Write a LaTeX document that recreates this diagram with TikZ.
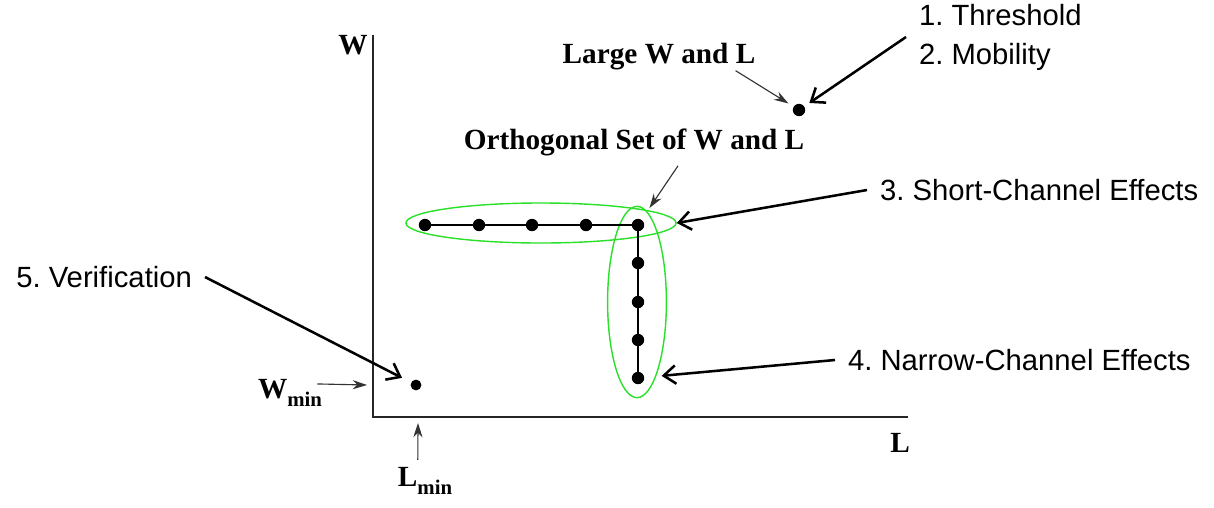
\documentclass[tikz,border=0pt]{standalone}
\usepackage{fontspec}
\setmainfont{Liberation Serif}
\newfontfamily\labelsans{Liberation Sans}
\usetikzlibrary{arrows.meta,positioning,calc,shapes.geometric}
\definecolor{ellgreen}{RGB}{40,225,40}
\frenchspacing
\tikzset{
  dotnode/.style={circle,fill=black,inner sep=0pt,minimum size=0.31cm},
  ellnode/.style={draw=ellgreen,ellipse,line width=1pt,inner sep=0pt},
  effectlabel/.style={font=\labelsans\fontsize{20.8}{27.7}\selectfont,
    inner xsep=0.32cm,inner ysep=0pt,align=left},
  seriflabel/.style={font=\bfseries\fontsize{20.8}{24}\selectfont,inner sep=0pt},
  bigarrow/.style={-{Straight Barb[length=3mm,width=4.6mm]},line width=1.8pt},
  thinarrow/.style={-{Stealth[length=3.6mm,width=2.3mm]},line width=0.8pt,draw=black!80},
  dotlink/.style={line width=1pt},
  axisline/.style={line width=1.2pt,draw=black!85}
}
\newcommand{\subtext}[1]{\raisebox{-0.2cm}{\fontsize{14.8}{16}\selectfont #1}}

\begin{document}
\begin{tikzpicture}[x=0.025cm,y=-0.025cm]
  \useasboundingbox (0,0) rectangle (1214,507);

  % axes
  \draw[axisline] (373,35) |- (908,417);
  \node[seriflabel] (wax) at (353,45) {W};
  \node[seriflabel] (lax) at (900,443) {L};
  \node[seriflabel] (wmin) at (290,393) {W\subtext{min}};
  \node[seriflabel] (lmin) at (425,481) {L\subtext{min}};
  \coordinate (wtick) at (367,385);
  \coordinate (ltick) at (418,423);
  \draw[thinarrow] ([xshift=-0.12cm,yshift=-0.12cm]wmin.north east) -- (wtick);
  \draw[thinarrow] ([xshift=-0.18cm,yshift=0.18cm]lmin.north) -- (ltick);

  % green groups
  \node[ellnode,minimum width=6.75cm,minimum height=1cm] (hell) at (541,223) {};
  \node[ellnode,minimum width=1.47cm,minimum height=4.78cm] (vell) at (637,302) {};

  % points
  \foreach \i/\x in {1/425,2/479,3/532,4/586,5/638}
    \node[dotnode] (h\i) at (\x,225) {};
  \foreach \i/\y in {1/263,2/302,3/340,4/378}
    \node[dotnode] (v\i) at (638,\y) {};
  \draw[dotlink] (h1) -- (h2) -- (h3) -- (h4) -- (h5) -- (v1) -- (v2) -- (v3) -- (v4);
  \node[dotnode] (big) at (799,110) {};
  \node[dotnode,minimum size=0.27cm] (vdot) at (416,385) {};

  % serif captions
  \node[seriflabel] (large) at (659,57) {Large W and L};
  \node[seriflabel] (orth) at (634,142) {Orthogonal Set of W and L};
  \draw[thinarrow,shorten >=0.15cm] ([xshift=-0.5cm]large.south east) -- (big);
  \draw[thinarrow,shorten >=0.35cm] ([xshift=1.1cm,yshift=-0.25cm]orth.south) -- (h5);

  % effect labels
  \node[effectlabel,anchor=west] (thres) at (906,37) {1. Threshold\\2. Mobility};
  \node[effectlabel,anchor=west] (shortch) at (867,190) {3. Short-Channel Effects};
  \node[effectlabel,anchor=west] (narrowch) at (835,360) {4. Narrow-Channel Effects};
  \node[effectlabel,anchor=east] (verif) at (205,277) {5. Verification};
  \draw[bigarrow,shorten >=0.15cm] (thres.west) -- (big);
  \draw[bigarrow] (shortch.west) -- (hell.east);
  \draw[bigarrow,shorten >=0.43cm] (narrowch.west) -- (v4);
  \draw[bigarrow,shorten >=0.25cm] (verif.east) -- (vdot);
\end{tikzpicture}
\end{document}
